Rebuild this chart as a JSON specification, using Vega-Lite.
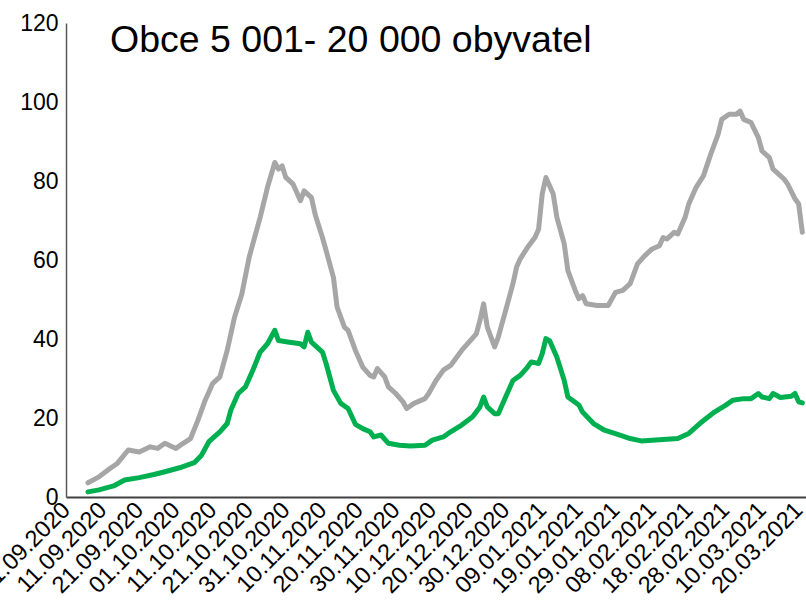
{
  "$schema": "https://vega.github.io/schema/vega-lite/v6.json",
  "autosize": {"type": "none"},
  "padding": {"left": 66, "top": 23, "right": 0, "bottom": 106},
  "width": 740,
  "height": 474,
  "background": "white",
  "config": {
    "view": {"stroke": null},
    "font": "Liberation Sans",
    "axis": {"ticks": false, "grid": false, "title": null, "labelColor": "#000000", "labelFont": "Liberation Sans"},
    "axisX": {
      "labelAngle": -45,
      "labelAlign": "right",
      "labelBaseline": "middle",
      "labelFontSize": 23.5,
      "labelPadding": 9,
      "labelOverlap": false,
      "labelBound": false,
      "labelFlush": false,
      "domainColor": "#404040",
      "domainWidth": 2
    },
    "axisY": {
      "labelFontSize": 23,
      "labelPadding": 8,
      "labelOverlap": false,
      "domainColor": "#595959",
      "domainWidth": 1.5
    }
  },
  "datasets": {
    "series": [
      {"date": "2020-09-07", "s": "gray", "v": 3.6},
      {"date": "2020-09-10", "s": "gray", "v": 5.1},
      {"date": "2020-09-13", "s": "gray", "v": 7.2},
      {"date": "2020-09-15", "s": "gray", "v": 8.5},
      {"date": "2020-09-18", "s": "gray", "v": 11.9},
      {"date": "2020-09-21", "s": "gray", "v": 11.4},
      {"date": "2020-09-24", "s": "gray", "v": 12.7},
      {"date": "2020-09-26", "s": "gray", "v": 12.3},
      {"date": "2020-09-28", "s": "gray", "v": 13.6},
      {"date": "2020-10-01", "s": "gray", "v": 12.3},
      {"date": "2020-10-03", "s": "gray", "v": 13.6},
      {"date": "2020-10-05", "s": "gray", "v": 14.8},
      {"date": "2020-10-07", "s": "gray", "v": 19.4},
      {"date": "2020-10-09", "s": "gray", "v": 24.5},
      {"date": "2020-10-11", "s": "gray", "v": 28.7},
      {"date": "2020-10-13", "s": "gray", "v": 30.4},
      {"date": "2020-10-15", "s": "gray", "v": 37.1},
      {"date": "2020-10-17", "s": "gray", "v": 45.5},
      {"date": "2020-10-19", "s": "gray", "v": 51.4},
      {"date": "2020-10-21", "s": "gray", "v": 60.7},
      {"date": "2020-10-24", "s": "gray", "v": 70.8},
      {"date": "2020-10-26", "s": "gray", "v": 78.4},
      {"date": "2020-10-28", "s": "gray", "v": 84.7},
      {"date": "2020-10-29", "s": "gray", "v": 83},
      {"date": "2020-10-30", "s": "gray", "v": 83.8},
      {"date": "2020-10-31", "s": "gray", "v": 80.9},
      {"date": "2020-11-02", "s": "gray", "v": 79.2},
      {"date": "2020-11-03", "s": "gray", "v": 77.1},
      {"date": "2020-11-04", "s": "gray", "v": 75},
      {"date": "2020-11-05", "s": "gray", "v": 77.5},
      {"date": "2020-11-07", "s": "gray", "v": 75.8},
      {"date": "2020-11-08", "s": "gray", "v": 71.6},
      {"date": "2020-11-10", "s": "gray", "v": 65.7},
      {"date": "2020-11-11", "s": "gray", "v": 62.4},
      {"date": "2020-11-13", "s": "gray", "v": 55.6},
      {"date": "2020-11-14", "s": "gray", "v": 48.1},
      {"date": "2020-11-16", "s": "gray", "v": 43},
      {"date": "2020-11-17", "s": "gray", "v": 42.2},
      {"date": "2020-11-19", "s": "gray", "v": 37.1},
      {"date": "2020-11-21", "s": "gray", "v": 32.9},
      {"date": "2020-11-23", "s": "gray", "v": 30.8},
      {"date": "2020-11-24", "s": "gray", "v": 30.4},
      {"date": "2020-11-25", "s": "gray", "v": 32.5},
      {"date": "2020-11-27", "s": "gray", "v": 30.4},
      {"date": "2020-11-28", "s": "gray", "v": 27.9},
      {"date": "2020-11-30", "s": "gray", "v": 26.2},
      {"date": "2020-12-02", "s": "gray", "v": 24.1},
      {"date": "2020-12-03", "s": "gray", "v": 22.4},
      {"date": "2020-12-05", "s": "gray", "v": 23.7},
      {"date": "2020-12-08", "s": "gray", "v": 24.9},
      {"date": "2020-12-09", "s": "gray", "v": 26.2},
      {"date": "2020-12-11", "s": "gray", "v": 29.5},
      {"date": "2020-12-13", "s": "gray", "v": 32.1},
      {"date": "2020-12-15", "s": "gray", "v": 33.3},
      {"date": "2020-12-18", "s": "gray", "v": 37.1},
      {"date": "2020-12-20", "s": "gray", "v": 39.2},
      {"date": "2020-12-22", "s": "gray", "v": 41.3},
      {"date": "2020-12-23", "s": "gray", "v": 44.7},
      {"date": "2020-12-24", "s": "gray", "v": 48.9},
      {"date": "2020-12-25", "s": "gray", "v": 43},
      {"date": "2020-12-27", "s": "gray", "v": 38},
      {"date": "2020-12-28", "s": "gray", "v": 40.5},
      {"date": "2020-12-30", "s": "gray", "v": 47.2},
      {"date": "2021-01-01", "s": "gray", "v": 54},
      {"date": "2021-01-02", "s": "gray", "v": 58.2},
      {"date": "2021-01-03", "s": "gray", "v": 60.3},
      {"date": "2021-01-05", "s": "gray", "v": 63.2},
      {"date": "2021-01-07", "s": "gray", "v": 65.7},
      {"date": "2021-01-08", "s": "gray", "v": 67.8},
      {"date": "2021-01-09", "s": "gray", "v": 76.7},
      {"date": "2021-01-10", "s": "gray", "v": 80.9},
      {"date": "2021-01-12", "s": "gray", "v": 76.7},
      {"date": "2021-01-13", "s": "gray", "v": 70.8},
      {"date": "2021-01-15", "s": "gray", "v": 64.1},
      {"date": "2021-01-16", "s": "gray", "v": 57.3},
      {"date": "2021-01-18", "s": "gray", "v": 52.3},
      {"date": "2021-01-19", "s": "gray", "v": 50.2},
      {"date": "2021-01-20", "s": "gray", "v": 51},
      {"date": "2021-01-21", "s": "gray", "v": 48.9},
      {"date": "2021-01-24", "s": "gray", "v": 48.5},
      {"date": "2021-01-27", "s": "gray", "v": 48.5},
      {"date": "2021-01-29", "s": "gray", "v": 51.8},
      {"date": "2021-01-31", "s": "gray", "v": 52.3},
      {"date": "2021-02-02", "s": "gray", "v": 54},
      {"date": "2021-02-04", "s": "gray", "v": 59},
      {"date": "2021-02-06", "s": "gray", "v": 61.1},
      {"date": "2021-02-08", "s": "gray", "v": 62.8},
      {"date": "2021-02-10", "s": "gray", "v": 63.6},
      {"date": "2021-02-11", "s": "gray", "v": 65.7},
      {"date": "2021-02-12", "s": "gray", "v": 65.3},
      {"date": "2021-02-14", "s": "gray", "v": 67},
      {"date": "2021-02-15", "s": "gray", "v": 66.6},
      {"date": "2021-02-17", "s": "gray", "v": 70.8},
      {"date": "2021-02-18", "s": "gray", "v": 74.2},
      {"date": "2021-02-20", "s": "gray", "v": 78.4},
      {"date": "2021-02-22", "s": "gray", "v": 81.3},
      {"date": "2021-02-24", "s": "gray", "v": 86.8},
      {"date": "2021-02-26", "s": "gray", "v": 91.8},
      {"date": "2021-02-27", "s": "gray", "v": 95.6},
      {"date": "2021-03-01", "s": "gray", "v": 96.9},
      {"date": "2021-03-03", "s": "gray", "v": 96.9},
      {"date": "2021-03-04", "s": "gray", "v": 97.7},
      {"date": "2021-03-05", "s": "gray", "v": 95.6},
      {"date": "2021-03-07", "s": "gray", "v": 94.8},
      {"date": "2021-03-09", "s": "gray", "v": 91},
      {"date": "2021-03-10", "s": "gray", "v": 87.6},
      {"date": "2021-03-12", "s": "gray", "v": 85.9},
      {"date": "2021-03-13", "s": "gray", "v": 83},
      {"date": "2021-03-14", "s": "gray", "v": 82.2},
      {"date": "2021-03-16", "s": "gray", "v": 80.5},
      {"date": "2021-03-17", "s": "gray", "v": 79.2},
      {"date": "2021-03-19", "s": "gray", "v": 75.5},
      {"date": "2021-03-20", "s": "gray", "v": 74.2},
      {"date": "2021-03-21", "s": "gray", "v": 67},
      {"date": "2020-09-07", "s": "green", "v": 1.3},
      {"date": "2020-09-10", "s": "green", "v": 1.8},
      {"date": "2020-09-14", "s": "green", "v": 2.8},
      {"date": "2020-09-17", "s": "green", "v": 4.3},
      {"date": "2020-09-21", "s": "green", "v": 4.9},
      {"date": "2020-09-25", "s": "green", "v": 5.7},
      {"date": "2020-09-28", "s": "green", "v": 6.4},
      {"date": "2020-10-02", "s": "green", "v": 7.4},
      {"date": "2020-10-06", "s": "green", "v": 8.7},
      {"date": "2020-10-08", "s": "green", "v": 10.6},
      {"date": "2020-10-10", "s": "green", "v": 14},
      {"date": "2020-10-13", "s": "green", "v": 16.5},
      {"date": "2020-10-15", "s": "green", "v": 18.6},
      {"date": "2020-10-16", "s": "green", "v": 22},
      {"date": "2020-10-18", "s": "green", "v": 26.2},
      {"date": "2020-10-20", "s": "green", "v": 27.9},
      {"date": "2020-10-22", "s": "green", "v": 32.1},
      {"date": "2020-10-24", "s": "green", "v": 36.7},
      {"date": "2020-10-26", "s": "green", "v": 38.8},
      {"date": "2020-10-28", "s": "green", "v": 42.2},
      {"date": "2020-10-29", "s": "green", "v": 39.6},
      {"date": "2020-11-01", "s": "green", "v": 39.2},
      {"date": "2020-11-04", "s": "green", "v": 38.8},
      {"date": "2020-11-05", "s": "green", "v": 38},
      {"date": "2020-11-06", "s": "green", "v": 41.7},
      {"date": "2020-11-07", "s": "green", "v": 39.2},
      {"date": "2020-11-10", "s": "green", "v": 36.7},
      {"date": "2020-11-11", "s": "green", "v": 33.8},
      {"date": "2020-11-13", "s": "green", "v": 27},
      {"date": "2020-11-15", "s": "green", "v": 23.7},
      {"date": "2020-11-17", "s": "green", "v": 22.4},
      {"date": "2020-11-19", "s": "green", "v": 18.4},
      {"date": "2020-11-21", "s": "green", "v": 17.3},
      {"date": "2020-11-23", "s": "green", "v": 16.5},
      {"date": "2020-11-24", "s": "green", "v": 15.2},
      {"date": "2020-11-26", "s": "green", "v": 15.7},
      {"date": "2020-11-28", "s": "green", "v": 13.6},
      {"date": "2020-12-01", "s": "green", "v": 13.1},
      {"date": "2020-12-04", "s": "green", "v": 12.9},
      {"date": "2020-12-08", "s": "green", "v": 13.1},
      {"date": "2020-12-10", "s": "green", "v": 14.4},
      {"date": "2020-12-13", "s": "green", "v": 15.2},
      {"date": "2020-12-15", "s": "green", "v": 16.5},
      {"date": "2020-12-18", "s": "green", "v": 18.2},
      {"date": "2020-12-21", "s": "green", "v": 20.3},
      {"date": "2020-12-23", "s": "green", "v": 22.8},
      {"date": "2020-12-24", "s": "green", "v": 25.3},
      {"date": "2020-12-25", "s": "green", "v": 22.8},
      {"date": "2020-12-27", "s": "green", "v": 21.1},
      {"date": "2020-12-28", "s": "green", "v": 21.1},
      {"date": "2020-12-30", "s": "green", "v": 25.3},
      {"date": "2021-01-01", "s": "green", "v": 29.5},
      {"date": "2021-01-03", "s": "green", "v": 30.8},
      {"date": "2021-01-05", "s": "green", "v": 32.9},
      {"date": "2021-01-06", "s": "green", "v": 34.2},
      {"date": "2021-01-08", "s": "green", "v": 33.8},
      {"date": "2021-01-09", "s": "green", "v": 36.3},
      {"date": "2021-01-10", "s": "green", "v": 40.1},
      {"date": "2021-01-11", "s": "green", "v": 39.6},
      {"date": "2021-01-13", "s": "green", "v": 35.4},
      {"date": "2021-01-15", "s": "green", "v": 29.5},
      {"date": "2021-01-16", "s": "green", "v": 25.3},
      {"date": "2021-01-19", "s": "green", "v": 23.3},
      {"date": "2021-01-20", "s": "green", "v": 21.5},
      {"date": "2021-01-23", "s": "green", "v": 18.6},
      {"date": "2021-01-26", "s": "green", "v": 16.9},
      {"date": "2021-01-30", "s": "green", "v": 15.7},
      {"date": "2021-02-02", "s": "green", "v": 14.8},
      {"date": "2021-02-05", "s": "green", "v": 14.2},
      {"date": "2021-02-09", "s": "green", "v": 14.4},
      {"date": "2021-02-12", "s": "green", "v": 14.6},
      {"date": "2021-02-15", "s": "green", "v": 14.8},
      {"date": "2021-02-18", "s": "green", "v": 16.1},
      {"date": "2021-02-21", "s": "green", "v": 18.6},
      {"date": "2021-02-25", "s": "green", "v": 21.5},
      {"date": "2021-02-28", "s": "green", "v": 23.2},
      {"date": "2021-03-02", "s": "green", "v": 24.5},
      {"date": "2021-03-05", "s": "green", "v": 24.9},
      {"date": "2021-03-07", "s": "green", "v": 24.9},
      {"date": "2021-03-09", "s": "green", "v": 26.2},
      {"date": "2021-03-10", "s": "green", "v": 25.3},
      {"date": "2021-03-12", "s": "green", "v": 24.9},
      {"date": "2021-03-13", "s": "green", "v": 26.2},
      {"date": "2021-03-15", "s": "green", "v": 25.2},
      {"date": "2021-03-18", "s": "green", "v": 25.5},
      {"date": "2021-03-19", "s": "green", "v": 26.2},
      {"date": "2021-03-20", "s": "green", "v": 24.1},
      {"date": "2021-03-21", "s": "green", "v": 23.8}
    ]
  },
  "layer": [
    {
      "data": {"name": "series"},
      "mark": {"type": "line", "strokeWidth": 5, "strokeJoin": "round", "strokeCap": "round", "clip": false},
      "encoding": {
        "x": {
          "field": "date",
          "type": "temporal",
          "scale": {"domain": [{"year": 2020, "month": 9, "date": 1}, {"year": 2021, "month": 3, "date": 22}]},
          "axis": {
            "format": "%d.%m.%Y",
            "labelOverlap": false,
            "values": [
              {"year": 2020, "month": 9, "date": 1},
              {"year": 2020, "month": 9, "date": 11},
              {"year": 2020, "month": 9, "date": 21},
              {"year": 2020, "month": 10, "date": 1},
              {"year": 2020, "month": 10, "date": 11},
              {"year": 2020, "month": 10, "date": 21},
              {"year": 2020, "month": 10, "date": 31},
              {"year": 2020, "month": 11, "date": 10},
              {"year": 2020, "month": 11, "date": 20},
              {"year": 2020, "month": 11, "date": 30},
              {"year": 2020, "month": 12, "date": 10},
              {"year": 2020, "month": 12, "date": 20},
              {"year": 2020, "month": 12, "date": 30},
              {"year": 2021, "month": 1, "date": 9},
              {"year": 2021, "month": 1, "date": 19},
              {"year": 2021, "month": 1, "date": 29},
              {"year": 2021, "month": 2, "date": 8},
              {"year": 2021, "month": 2, "date": 18},
              {"year": 2021, "month": 2, "date": 28},
              {"year": 2021, "month": 3, "date": 10},
              {"year": 2021, "month": 3, "date": 20}
            ]
          }
        },
        "y": {
          "field": "v",
          "type": "quantitative",
          "scale": {"domain": [0, 120], "nice": false},
          "axis": {"labelOverlap": false, "values": [0, 20, 40, 60, 80, 100, 120]}
        },
        "color": {
          "field": "s",
          "type": "nominal",
          "scale": {"domain": ["gray", "green"], "range": ["#a6a6a6", "#00b050"]},
          "legend": null
        }
      }
    },
    {
      "data": {"values": [{"label": "Obce 5 001- 20 000 obyvatel"}]},
      "mark": {
        "type": "text",
        "align": "left",
        "baseline": "alphabetic",
        "font": "Liberation Sans",
        "fontSize": 37.5,
        "color": "#000000"
      },
      "encoding": {
        "x": {
          "datum": {"year": 2020, "month": 9, "date": 13},
          "type": "temporal",
          "axis": {
            "format": "%d.%m.%Y",
            "labelOverlap": false,
            "values": [
              {"year": 2020, "month": 9, "date": 1},
              {"year": 2020, "month": 9, "date": 11},
              {"year": 2020, "month": 9, "date": 21},
              {"year": 2020, "month": 10, "date": 1},
              {"year": 2020, "month": 10, "date": 11},
              {"year": 2020, "month": 10, "date": 21},
              {"year": 2020, "month": 10, "date": 31},
              {"year": 2020, "month": 11, "date": 10},
              {"year": 2020, "month": 11, "date": 20},
              {"year": 2020, "month": 11, "date": 30},
              {"year": 2020, "month": 12, "date": 10},
              {"year": 2020, "month": 12, "date": 20},
              {"year": 2020, "month": 12, "date": 30},
              {"year": 2021, "month": 1, "date": 9},
              {"year": 2021, "month": 1, "date": 19},
              {"year": 2021, "month": 1, "date": 29},
              {"year": 2021, "month": 2, "date": 8},
              {"year": 2021, "month": 2, "date": 18},
              {"year": 2021, "month": 2, "date": 28},
              {"year": 2021, "month": 3, "date": 10},
              {"year": 2021, "month": 3, "date": 20}
            ]
          }
        },
        "y": {
          "datum": 112.6,
          "type": "quantitative",
          "axis": {"labelOverlap": false, "values": [0, 20, 40, 60, 80, 100, 120]}
        },
        "text": {"field": "label"}
      }
    }
  ]
}
